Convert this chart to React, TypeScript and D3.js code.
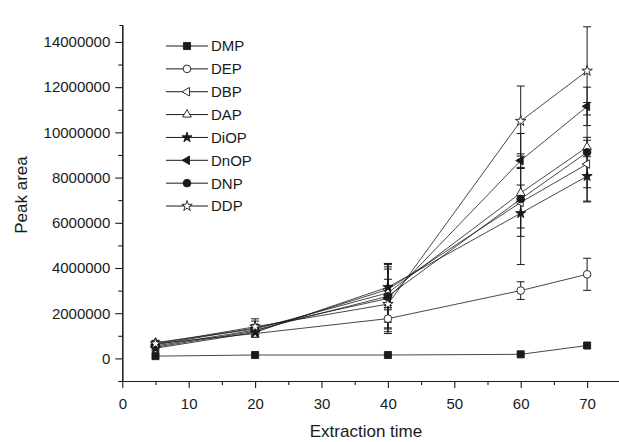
import React, { useRef, useEffect } from 'react';
import * as d3 from 'd3';

// extraction times (x) and peak areas per compound
const times = [5, 20, 40, 60, 70];
const names = ['DMP', 'DEP', 'DBP', 'DAP', 'DiOP', 'DnOP', 'DNP', 'DDP'];

const dmp = [100000, 150000, 150000, 180000, 570000];
const dep = [650000, 1100000, 1760000, 3000000, 3720000];
const dbp = [500000, 1200000, 3050000, 6900000, 8600000];
const dap = [700000, 1300000, 2900000, 7320000, 9350000];
const diop = [450000, 1150000, 3150000, 6420000, 8060000];
const dnop = [600000, 1350000, 2650000, 8750000, 11150000];
const dnp = [550000, 1250000, 2750000, 7050000, 9120000];
const ddp = [650000, 1400000, 2400000, 10500000, 12720000];

// +/- error per point
const dmpErr = [0, 0, 0, 0, 0];
const depErr = [100000, 150000, 580000, 390000, 710000];
const dbpErr = [120000, 250000, 900000, 1500000, 1050000];
const dapErr = [100000, 200000, 1300000, 350000, 430000];
const diopErr = [120000, 200000, 900000, 650000, 1100000];
const dnopErr = [120000, 300000, 1550000, 300000, 850000];
const dnpErr = [100000, 250000, 1400000, 2900000, 2200000];
const ddpErr = [120000, 350000, 1100000, 1550000, 1950000];

const values = [dmp, dep, dbp, dap, diop, dnop, dnp, ddp];
const errors = [dmpErr, depErr, dbpErr, dapErr, diopErr, dnopErr, dnpErr, ddpErr];

const yTicks = [0, 2000000, 4000000, 6000000, 8000000, 10000000, 12000000, 14000000];
const xTicks = [0, 10, 20, 30, 40, 50, 60, 70];

// marker look for each series
const markers = [
  { shape: d3.symbolSquare, size: 50, filled: true, rotate: 0 },
  { shape: d3.symbolCircle, size: 46, filled: false, rotate: 0 },
  { shape: d3.symbolTriangle, size: 32, filled: false, rotate: -90 },
  { shape: d3.symbolTriangle, size: 32, filled: false, rotate: 0 },
  { shape: d3.symbolStar, size: 32, filled: true, rotate: 0 },
  { shape: d3.symbolTriangle, size: 32, filled: true, rotate: -90 },
  { shape: d3.symbolCircle, size: 46, filled: true, rotate: 0 },
  { shape: d3.symbolStar, size: 34, filled: false, rotate: 0 },
];

const W = 619;
const H = 442;
const FONT = '"Liberation Sans", Arial, sans-serif';
const INK = '#1a1a1a';

function App() {
  const ref = useRef<SVGSVGElement>(null);

  useEffect(() => {
    const svg = d3.select(ref.current);
    svg.selectAll('*').remove();

    const x = d3.scaleLinear().domain([0, 75]).range([122.3, 620.3]);
    const y = d3.scaleLinear().domain([-1000000, 14750000]).range([381, 25]);

    // axes
    svg
      .append('g')
      .attr('transform', `translate(${x(0)},0)`)
      .call(
        d3
          .axisLeft(y)
          .tickValues(yTicks)
          .tickSize(7)
          .tickSizeOuter(3)
          .tickPadding(5)
          .tickFormat(d3.format('d'))
      );
    svg
      .append('g')
      .attr('transform', `translate(${x(0)},0)`)
      .call(
        d3
          .axisLeft(y)
          .tickValues(d3.range(-1000000, 14000001, 2000000))
          .tickSize(4)
          .tickSizeOuter(0)
          .tickFormat(() => '')
      );
    svg
      .append('g')
      .attr('transform', `translate(0,${y(-1000000)})`)
      .call(d3.axisBottom(x).tickValues(xTicks).tickSize(7).tickSizeOuter(0).tickPadding(10));
    svg
      .append('g')
      .attr('transform', `translate(0,${y(-1000000)})`)
      .call(
        d3
          .axisBottom(x)
          .tickValues(d3.range(5, 76, 10))
          .tickSize(4)
          .tickSizeOuter(0)
          .tickFormat(() => '')
      );
    svg.selectAll('.domain, .tick line').attr('stroke', INK).attr('stroke-width', 1.1);
    svg.selectAll('.tick text').attr('fill', INK).attr('font-family', FONT).attr('font-size', 15);

    // axis titles
    svg
      .append('text')
      .attr('x', 366)
      .attr('y', 437)
      .attr('text-anchor', 'middle')
      .attr('font-family', FONT)
      .attr('font-size', 17)
      .attr('fill', INK)
      .text('Extraction time');
    svg
      .append('text')
      .attr('transform', `translate(27,195) rotate(-90)`)
      .attr('text-anchor', 'middle')
      .attr('font-family', FONT)
      .attr('font-size', 17)
      .attr('fill', INK)
      .text('Peak area');

    const line = d3
      .line<number>()
      .x((d, i) => x(times[i]))
      .y((d) => y(d));

    // error bars first, then lines, then markers
    values.forEach((vals, s) => {
      const g = svg.append('g');
      vals.forEach((v, i) => {
        const e = errors[s][i];
        if (!e) return;
        const cx = x(times[i]);
        g.append('line')
          .attr('x1', cx)
          .attr('x2', cx)
          .attr('y1', y(v - e))
          .attr('y2', y(v + e))
          .attr('stroke', INK)
          .attr('stroke-width', 1);
        [v - e, v + e].forEach((c) => {
          g.append('line')
            .attr('x1', cx - 4)
            .attr('x2', cx + 4)
            .attr('y1', y(c))
            .attr('y2', y(c))
            .attr('stroke', INK)
            .attr('stroke-width', 1);
        });
      });
    });

    values.forEach((vals) => {
      svg
        .append('path')
        .datum(vals)
        .attr('d', line)
        .attr('fill', 'none')
        .attr('stroke', INK)
        .attr('stroke-width', 0.8);
    });

    const drawMarker = (g: any, s: number, cx: number, cy: number) => {
      const m = markers[s];
      g.append('path')
        .attr('d', d3.symbol().type(m.shape).size(m.size)())
        .attr('transform', `translate(${cx},${cy}) rotate(${m.rotate})`)
        .attr('fill', m.filled ? INK : '#fff')
        .attr('stroke', INK)
        .attr('stroke-width', 0.9);
    };

    values.forEach((vals, s) => {
      const g = svg.append('g');
      vals.forEach((v, i) => drawMarker(g, s, x(times[i]), y(v)));
    });

    // legend
    const leg = svg.append('g');
    names.forEach((name, i) => {
      const ly = 46 + i * 22.86;
      leg
        .append('line')
        .attr('x1', 166)
        .attr('x2', 208)
        .attr('y1', ly)
        .attr('y2', ly)
        .attr('stroke', INK)
        .attr('stroke-width', 1);
      drawMarker(leg, i, 187, ly);
      leg
        .append('text')
        .attr('x', 211)
        .attr('y', ly)
        .attr('dy', '0.36em')
        .attr('font-family', FONT)
        .attr('font-size', 15)
        .attr('fill', INK)
        .text(name);
    });
  }, []);

  return (
    <svg
      ref={ref}
      width={W}
      height={H}
      style={{ position: 'absolute', left: 0, top: 0, background: '#fff' }}
    />
  );
}

export default App;
